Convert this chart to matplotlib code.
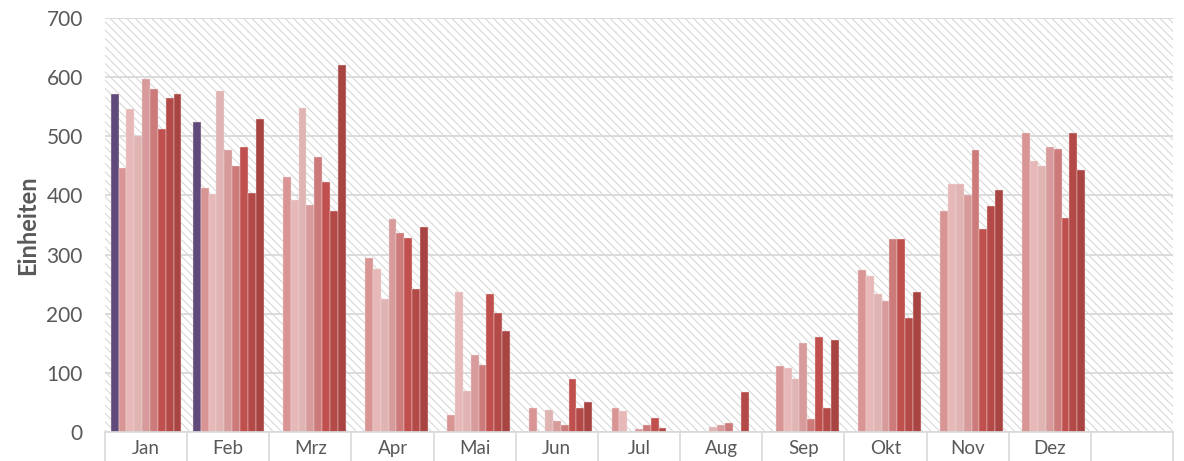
import numpy as np
import matplotlib
matplotlib.use("Agg")
import matplotlib.pyplot as plt
from matplotlib.patches import Rectangle

# Month categories (last slot intentionally empty)
months = ["Jan", "Feb", "Mrz", "Apr", "Mai", "Jun", "Jul", "Aug", "Sep", "Okt", "Nov", "Dez", ""]

# Units per month, one list per series (0 = no bar)
series_0 = [572, 524, 0, 0, 0, 0, 0, 0, 0, 0, 0, 0, 0]
series_1 = [447, 413, 432, 294, 28, 40, 41, 0, 112, 274, 374, 506, 0]
series_2 = [546, 403, 392, 276, 236, 0, 36, 0, 109, 263, 419, 458, 0]
series_3 = [501, 577, 547, 225, 70, 38, 0, 8, 90, 233, 420, 450, 0]
series_4 = [597, 477, 383, 360, 130, 18, 5, 12, 150, 222, 401, 482, 0]
series_5 = [580, 450, 465, 337, 113, 12, 11, 15, 22, 327, 476, 479, 0]
series_6 = [512, 482, 422, 328, 233, 90, 24, 0, 160, 326, 343, 361, 0]
series_7 = [565, 404, 373, 241, 202, 40, 6, 67, 40, 192, 382, 505, 0]
series_8 = [571, 530, 621, 346, 170, 51, 0, 0, 156, 236, 410, 443, 0]

series = [series_0, series_1, series_2, series_3, series_4,
          series_5, series_6, series_7, series_8]
colors = ["#604a7b", "#d99594", "#e6b9b8", "#dfb4b3", "#d69b9a",
          "#cc7b7a", "#c0504d", "#b44a47", "#a84543"]

y_ticks = [0, 100, 200, 300, 400, 500, 600, 700]
y_label = "Einheiten"

text_color = "#595959"
grid_color = "#d9d9d9"
font = ["Lato", "DejaVu Sans"]

plt.rcParams["font.family"] = font
plt.rcParams["hatch.linewidth"] = 0.7

fig = plt.figure(figsize=(11.84, 4.61), dpi=100)
ax = fig.add_axes([105 / 1184, 1 - 432 / 461, (1173 - 105) / 1184, (432 - 18) / 461])

n_cat = len(months)
n_ser = len(series)
x = np.arange(n_cat)
group_w = 0.86
bar_w = group_w / n_ser

# Hatched plot background
ax.add_patch(Rectangle((0, 0), 1, 1, transform=ax.transAxes, facecolor="white",
                       edgecolor="#d4d4d4", linewidth=0, hatch="\\\\\\\\", zorder=0))

for i, (vals, col) in enumerate(zip(series, colors)):
    offs = -group_w / 2 + bar_w * (i + 0.5)
    ax.bar(x + offs, vals, width=bar_w, color=col, edgecolor="#f2dcdb",
           linewidth=0.3, zorder=3)

ax.set_xlim(-0.5, n_cat - 0.5)
ax.set_ylim(0, 700)
ax.set_yticks(y_ticks)
ax.yaxis.grid(True, color=grid_color, linewidth=1.3, zorder=1)
ax.set_axisbelow(True)

ax.set_xticks(x)
ax.set_xticklabels(months, fontsize=13.5, color=text_color)
ax.set_xticks(np.arange(-0.5, n_cat, 1.0), minor=True)
ax.tick_params(axis="x", which="major", length=0, pad=6)
ax.tick_params(axis="x", which="minor", length=22, width=1.2, color=grid_color, direction="out")
ax.tick_params(axis="y", length=0, pad=16, labelsize=15, labelcolor=text_color)

for side in ["top", "right", "left"]:
    ax.spines[side].set_visible(False)
ax.spines["bottom"].set_color(grid_color)
ax.spines["bottom"].set_linewidth(1.2)
ax.spines["bottom"].set_zorder(4)

ax.set_ylabel(y_label, fontsize=17, fontweight="bold", color=text_color, labelpad=5)

fig.savefig("out.png", dpi=100)
